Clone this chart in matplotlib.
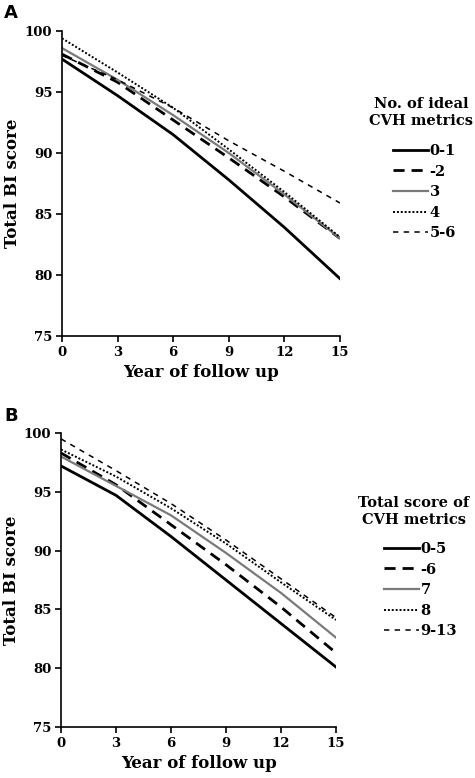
import matplotlib
matplotlib.use('Agg')
import matplotlib.pyplot as plt
from matplotlib.lines import Line2D

# Data
years = [0, 3, 6, 9, 12, 15]

labels_a = ['0-1', '-2', '3', '4', '5-6']
a_01 = [97.7, 94.7, 91.5, 87.8, 83.9, 79.7]
a_2 = [98.1, 95.8, 92.7, 89.6, 86.4, 83.0]
a_3 = [98.6, 96.0, 93.1, 90.0, 86.6, 83.0]
a_4 = [99.4, 96.6, 93.7, 90.3, 86.8, 83.1]
a_56 = [98.0, 96.0, 93.7, 91.0, 88.5, 85.9]

labels_b = ['0-5', '-6', '7', '8', '9-13']
b_05 = [97.2, 94.7, 91.2, 87.5, 83.8, 80.1]
b_6 = [98.3, 95.6, 92.2, 88.8, 85.2, 81.3]
b_7 = [98.0, 95.5, 93.0, 89.8, 86.4, 82.6]
b_8 = [98.6, 96.3, 93.6, 90.6, 87.3, 84.1]
b_913 = [99.5, 96.8, 94.0, 90.9, 87.6, 84.3]

xticks = [0, 3, 6, 9, 12, 15]
yticks = [75, 80, 85, 90, 95, 100]

plt.rcParams['font.family'] = 'DejaVu Serif'
plt.rcParams['font.weight'] = 'bold'

styles = [
    dict(color='black', lw=2.0, ls='-'),
    dict(color='black', lw=2.0, ls=(0, (4, 2.5))),
    dict(color='#7a7a7a', lw=1.6, ls='-'),
    dict(color='black', lw=1.4, ls=(0, (1, 1))),
    dict(color='black', lw=1.1, ls=(0, (3.5, 3.5))),
]

fig = plt.figure(figsize=(4.75, 7.78), dpi=100)
ax_a = fig.add_axes([62 / 475, 1 - 336 / 778, 278 / 475, 305 / 778])
ax_b = fig.add_axes([61 / 475, 1 - 727 / 778, 275 / 475, 294 / 778])


def draw_panel(ax, series, labels, title, title_x, title_y, leg_x, leg_y):
    handles = []
    for s, lab, st in zip(series, labels, styles):
        ax.plot(years, s, **st)
        handles.append(Line2D([], [], **st, label=lab))
    ax.set_xlim(0, 15)
    ax.set_ylim(75, 100)
    ax.set_xticks(xticks)
    ax.set_yticks(yticks)
    ax.spines['top'].set_visible(False)
    ax.spines['right'].set_visible(False)
    for a in ['left', 'bottom']:
        ax.spines[a].set_linewidth(1.2)
    ax.tick_params(direction='out', length=4, width=1.2, labelsize=9.5, pad=3)
    for t in ax.get_xticklabels() + ax.get_yticklabels():
        t.set_fontweight('bold')
    ax.set_xlabel('Year of follow up', fontsize=12, fontweight='bold', labelpad=4)
    ax.set_ylabel('Total BI score', fontsize=12, fontweight='bold')
    ax.yaxis.set_label_coords(-41 / 278, 0.5)
    fig.text(title_x, title_y, title, fontsize=10.5, fontweight='bold',
             ha='center', va='top', multialignment='center', linespacing=1.25)
    leg = fig.legend(handles=handles, loc='upper left',
                     bbox_to_anchor=(leg_x, leg_y), frameon=False,
                     handlelength=2.4, handletextpad=0.1, labelspacing=0.45,
                     fontsize=10.5, borderpad=0, borderaxespad=0)
    for t in leg.get_texts():
        t.set_fontweight('bold')


draw_panel(ax_a, [a_01, a_2, a_3, a_4, a_56], labels_a,
           'No. of ideal\nCVH metrics', 421 / 475, 1 - 97 / 778,
           393 / 475, 1 - 144 / 778)
draw_panel(ax_b, [b_05, b_6, b_7, b_8, b_913], labels_b,
           'Total score of\nCVH metrics', 414 / 475, 1 - 496 / 778,
           384 / 475, 1 - 542 / 778)

fig.text(4 / 475, 1 - 4 / 778, 'A', family='DejaVu Sans', fontsize=13,
         fontweight='bold', va='top', ha='left')
fig.text(4 / 475, 1 - 407 / 778, 'B', family='DejaVu Sans', fontsize=13,
         fontweight='bold', va='top', ha='left')

fig.savefig('out.png', dpi=100)
